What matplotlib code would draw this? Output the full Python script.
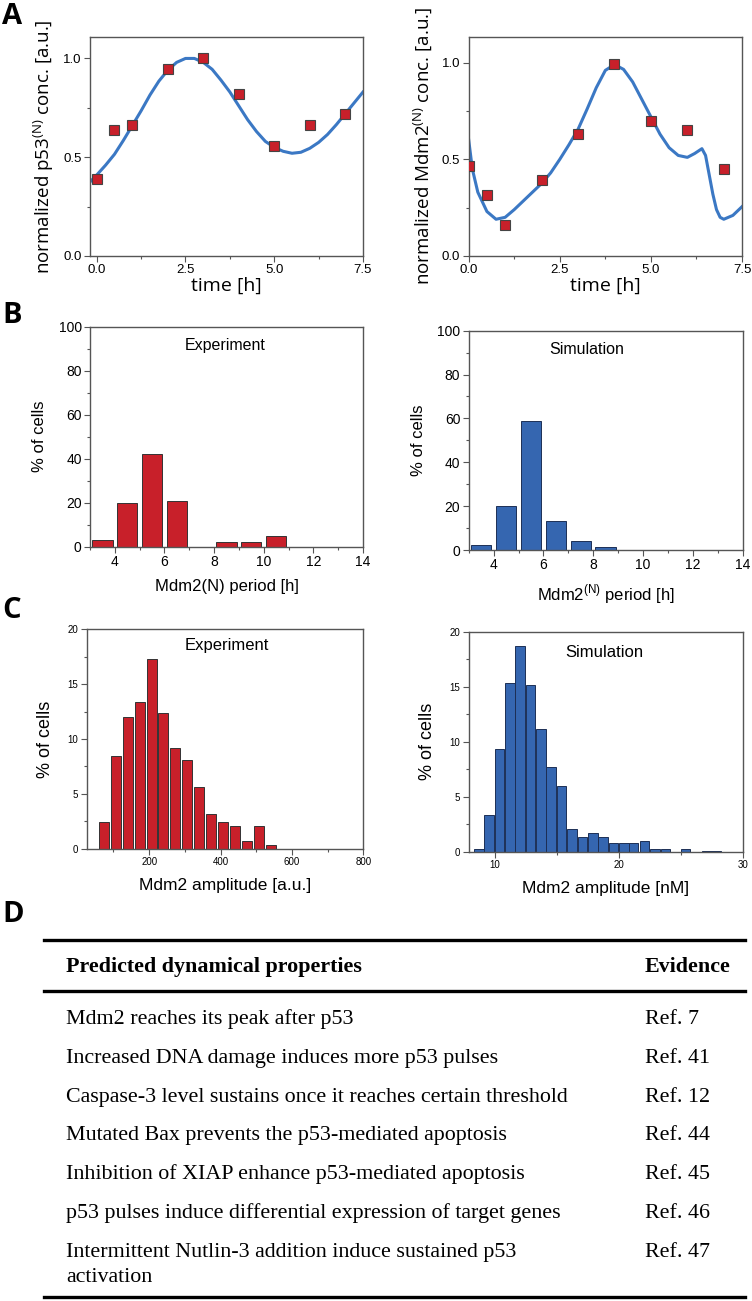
import matplotlib
matplotlib.use('Agg')
import matplotlib.pyplot as plt
from matplotlib.ticker import MultipleLocator
from matplotlib.lines import Line2D

# ---- data ----
# Panel A: p53 and Mdm2 nuclear time courses
p53_t_exp = [0, 0.5, 1, 2, 3, 4, 5, 6, 7]
p53_exp = [0.39, 0.64, 0.665, 0.945, 1.0, 0.82, 0.555, 0.665, 0.72]
p53_t_sim = [-0.19, 0, 0.25, 0.5, 0.75, 1, 1.25, 1.5, 1.75, 2, 2.25, 2.5, 2.75, 3,
             3.25, 3.5, 3.75, 4, 4.25, 4.5, 4.75, 5, 5.25, 5.5, 5.75, 6, 6.25, 6.5,
             6.75, 7, 7.25, 7.5]
p53_sim = [0.375, 0.41, 0.46, 0.515, 0.585, 0.66, 0.735, 0.815, 0.885, 0.94, 0.98,
           1.0, 1.0, 0.98, 0.945, 0.89, 0.83, 0.76, 0.69, 0.63, 0.58, 0.55, 0.53,
           0.52, 0.525, 0.545, 0.575, 0.615, 0.665, 0.72, 0.775, 0.83]

mdm2_t_exp = [0, 0.5, 1, 2, 3, 4, 5, 6, 7]
mdm2_exp = [0.467, 0.315, 0.16, 0.394, 0.633, 0.995, 0.70, 0.65, 0.45]
mdm2_t_sim = [0, 0.1, 0.25, 0.5, 0.75, 1, 1.25, 1.5, 1.75, 2, 2.25, 2.5, 2.75, 3,
              3.25, 3.5, 3.75, 4, 4.25, 4.5, 4.75, 5, 5.25, 5.5, 5.75, 6, 6.2, 6.4,
              6.5, 6.6, 6.7, 6.8, 6.9, 7, 7.25, 7.5]
mdm2_sim = [0.60, 0.45, 0.33, 0.23, 0.19, 0.20, 0.24, 0.285, 0.33, 0.375, 0.43,
            0.50, 0.575, 0.655, 0.76, 0.87, 0.96, 0.99, 0.965, 0.90, 0.81, 0.72,
            0.63, 0.56, 0.52, 0.51, 0.53, 0.555, 0.52, 0.42, 0.32, 0.24, 0.20,
            0.19, 0.21, 0.255]

# Panel B: Mdm2 period histograms
period_bins = [3.5, 4.5, 5.5, 6.5, 7.5, 8.5, 9.5, 10.5, 11.5, 12.5, 13.5]
period_exp = [3, 20, 42, 21, 0, 2, 2, 5, 0, 0, 0]
period_sim = [2.3, 20, 59, 13, 4.1, 1.2, 0, 0, 0, 0, 0]

# Panel C: Mdm2 amplitude histograms
amp_bins_exp = [73, 107, 140, 173, 207, 240, 273, 307, 340, 373, 407, 440, 473, 507, 540]
amp_exp = [2.46, 8.45, 11.98, 13.4, 17.3, 12.35, 9.18, 8.12, 5.65, 3.16, 2.46,
           2.07, 0.73, 2.07, 0.33]
amp_bins_sim = [8.7, 9.5, 10.35, 11.2, 12.0, 12.85, 13.7, 14.5, 15.35, 16.2, 17.05,
                17.9, 18.7, 19.55, 20.4, 21.2, 22.05, 22.9, 23.75, 24.6, 25.4, 26.25,
                27.1, 27.9]
amp_sim = [0.21, 3.34, 9.35, 15.4, 18.7, 15.2, 11.17, 7.74, 6.0, 2.03, 1.37, 1.73,
           1.3, 0.82, 0.82, 0.82, 0.94, 0.22, 0.22, 0, 0.22, 0, 0.1, 0.1]

# Panel D: table
properties = [
    'Mdm2 reaches its peak after p53',
    'Increased DNA damage induces more p53 pulses',
    'Caspase-3 level sustains once it reaches certain threshold',
    'Mutated Bax prevents the p53-mediated apoptosis',
    'Inhibition of XIAP enhance p53-mediated apoptosis',
    'p53 pulses induce differential expression of target genes',
    'Intermittent Nutlin-3 addition induce sustained p53\nactivation',
]
evidence = ['Ref. 7', 'Ref. 41', 'Ref. 12', 'Ref. 44', 'Ref. 45', 'Ref. 46', 'Ref. 47']

RED = '#c8202a'
BLUE = '#3566b0'
LINE_BLUE = '#3b78c4'
SPINE = '#555555'

W, H = 752, 1301
fig = plt.figure(figsize=(W / 100, H / 100), dpi=100)


def px_axes(x0, y0, x1, y1):
    # pixel box (top-left origin) -> figure axes
    return fig.add_axes([x0 / W, 1 - y1 / H, (x1 - x0) / W, (y1 - y0) / H])


def style(ax, tick_size):
    for s in ax.spines.values():
        s.set_color(SPINE)
        s.set_linewidth(1.0)
    ax.tick_params(which='major', direction='out', length=4, width=0.8,
                   color=SPINE, labelsize=tick_size, pad=2)
    ax.tick_params(which='minor', direction='out', length=2.5, width=0.8, color=SPINE)
    for lab in ax.get_xticklabels() + ax.get_yticklabels():
        lab.set_family('Liberation Sans')


# ---- Panel A ----
axA1 = px_axes(90, 36.7, 363, 256)
axA1.plot(p53_t_sim, p53_sim, color=LINE_BLUE, lw=2.2, zorder=2)
axA1.plot(p53_t_exp, p53_exp, 's', color=RED, mec='#444444', mew=0.8, ms=7.5, zorder=3)
axA1.set_xlim(-0.19, 7.5)
axA1.set_ylim(0, 1.11)
axA1.set_ylabel('normalized p53$^{\\mathregular{(N)}}$ conc. [a.u.]',
                family='Open Sans', fontsize=13.5, labelpad=5)

axA2 = px_axes(468.7, 36.7, 742, 256)
axA2.plot(mdm2_t_sim, mdm2_sim, color=LINE_BLUE, lw=2.2, zorder=2)
axA2.plot(mdm2_t_exp, mdm2_exp, 's', color=RED, mec='#444444', mew=0.8, ms=7.5, zorder=3)
axA2.set_xlim(0, 7.5)
axA2.set_ylim(0, 1.134)
axA2.set_ylabel('normalized Mdm2$^{\\mathregular{(N)}}$ conc. [a.u.]',
                family='Open Sans', fontsize=13.5, labelpad=5)

for ax in (axA1, axA2):
    ax.set_xticks([0, 2.5, 5.0, 7.5])
    ax.set_xticklabels(['0.0', '2.5', '5.0', '7.5'])
    ax.xaxis.set_minor_locator(MultipleLocator(1.25))
    ax.set_yticks([0, 0.5, 1.0])
    ax.set_yticklabels(['0.0', '0.5', '1.0'])
    ax.yaxis.set_minor_locator(MultipleLocator(0.25))
    ax.set_xlabel('time [h]', family='Open Sans', fontsize=14, labelpad=0)
    style(ax, 9.5)

# ---- Panel B ----
axB1 = px_axes(90, 326.7, 363, 546.7)
axB1.bar(period_bins, period_exp, width=0.82, color=RED, edgecolor='#333333', lw=0.7)
axB1.set_xlabel('Mdm2(N) period [h]', family='Liberation Sans', fontsize=12, labelpad=7)
axB1.text(0.494, 0.894, 'Experiment', transform=axB1.transAxes, ha='center',
          va='baseline', family='Liberation Sans', fontsize=11.5)

axB2 = px_axes(468.7, 330.7, 742.7, 550)
axB2.bar(period_bins, period_sim, width=0.82, color=BLUE, edgecolor='#1d2f55', lw=0.7)
axB2.set_xlabel('Mdm2$^{\\mathregular{(N)}}$ period [h]', family='Liberation Sans',
                fontsize=12, labelpad=7)
axB2.text(0.432, 0.894, 'Simulation', transform=axB2.transAxes, ha='center',
          va='baseline', family='Liberation Sans', fontsize=11.5)

for ax in (axB1, axB2):
    ax.set_xlim(3, 14)
    ax.set_ylim(0, 100)
    ax.set_xticks([4, 6, 8, 10, 12, 14])
    ax.xaxis.set_minor_locator(MultipleLocator(1))
    ax.set_yticks([0, 20, 40, 60, 80, 100])
    ax.yaxis.set_minor_locator(MultipleLocator(10))
    ax.set_ylabel('% of cells', family='Liberation Sans', fontsize=12, labelpad=8)
    style(ax, 10)

# ---- Panel C ----
axC1 = px_axes(86.7, 629.3, 363.3, 848.7)
axC1.bar(amp_bins_exp, amp_exp, width=28, color=RED, edgecolor='#333333', lw=0.7)
axC1.set_xlim(25, 800)
axC1.set_xticks([200, 400, 600, 800])
axC1.xaxis.set_minor_locator(MultipleLocator(100))
axC1.set_xlabel('Mdm2 amplitude [a.u.]', family='Liberation Sans', fontsize=12.5, labelpad=8)
axC1.text(0.507, 0.906, 'Experiment', transform=axC1.transAxes, ha='center',
          va='baseline', family='Liberation Sans', fontsize=12)

axC2 = px_axes(468.7, 632, 742.7, 851.7)
axC2.bar(amp_bins_sim, amp_sim, width=0.76, color=BLUE, edgecolor='#1d2f55', lw=0.7)
axC2.set_xlim(7.86, 30)
axC2.set_xticks([10, 20, 30])
axC2.xaxis.set_minor_locator(MultipleLocator(5))
axC2.set_xlabel('Mdm2 amplitude [nM]', family='Liberation Sans', fontsize=12.5, labelpad=8)
axC2.text(0.494, 0.888, 'Simulation', transform=axC2.transAxes, ha='center',
          va='baseline', family='Liberation Sans', fontsize=12)

for ax in (axC1, axC2):
    ax.set_ylim(0, 20)
    ax.set_yticks([0, 5, 10, 15, 20])
    ax.yaxis.set_minor_locator(MultipleLocator(2.5))
    ax.set_ylabel('% of cells', family='Liberation Sans', fontsize=13, labelpad=10)
    style(ax, 7)

# ---- panel letters ----
for letter, base in (('A', 24), ('B', 323), ('C', 618), ('D', 922)):
    fig.text(2 / W, 1 - base / H, letter, family='Open Sans', weight='bold',
             fontsize=21, va='baseline', ha='left')

# ---- Panel D: table ----
x_l, x_r = 44 / W, 745 / W
for y, lw in ((939.5, 2.4), (990.5, 2.4), (1297, 2.4)):
    fig.add_artist(Line2D([x_l, x_r], [1 - y / H, 1 - y / H], color='black', lw=lw))

serif = 'Liberation Serif'
fs = 15.8
fig.text(66 / W, 1 - 972 / H, 'Predicted dynamical properties', family=serif,
         weight='bold', fontsize=fs, va='baseline')
fig.text(645 / W, 1 - 972 / H, 'Evidence', family=serif, weight='bold',
         fontsize=fs, va='baseline')
row0, row_step = 1024, 38.8
for i, (prop, ref) in enumerate(zip(properties, evidence)):
    yb = row0 + i * row_step
    lines = prop.split('\n')
    fig.text(66 / W, 1 - yb / H, lines[0], family=serif, fontsize=fs, va='baseline')
    if len(lines) > 1:
        fig.text(66 / W, 1 - (yb + 25) / H, lines[1], family=serif,
                 fontsize=fs, va='baseline')
    fig.text(645 / W, 1 - yb / H, ref, family=serif, fontsize=fs, va='baseline')

fig.savefig('out.png', dpi=100)
